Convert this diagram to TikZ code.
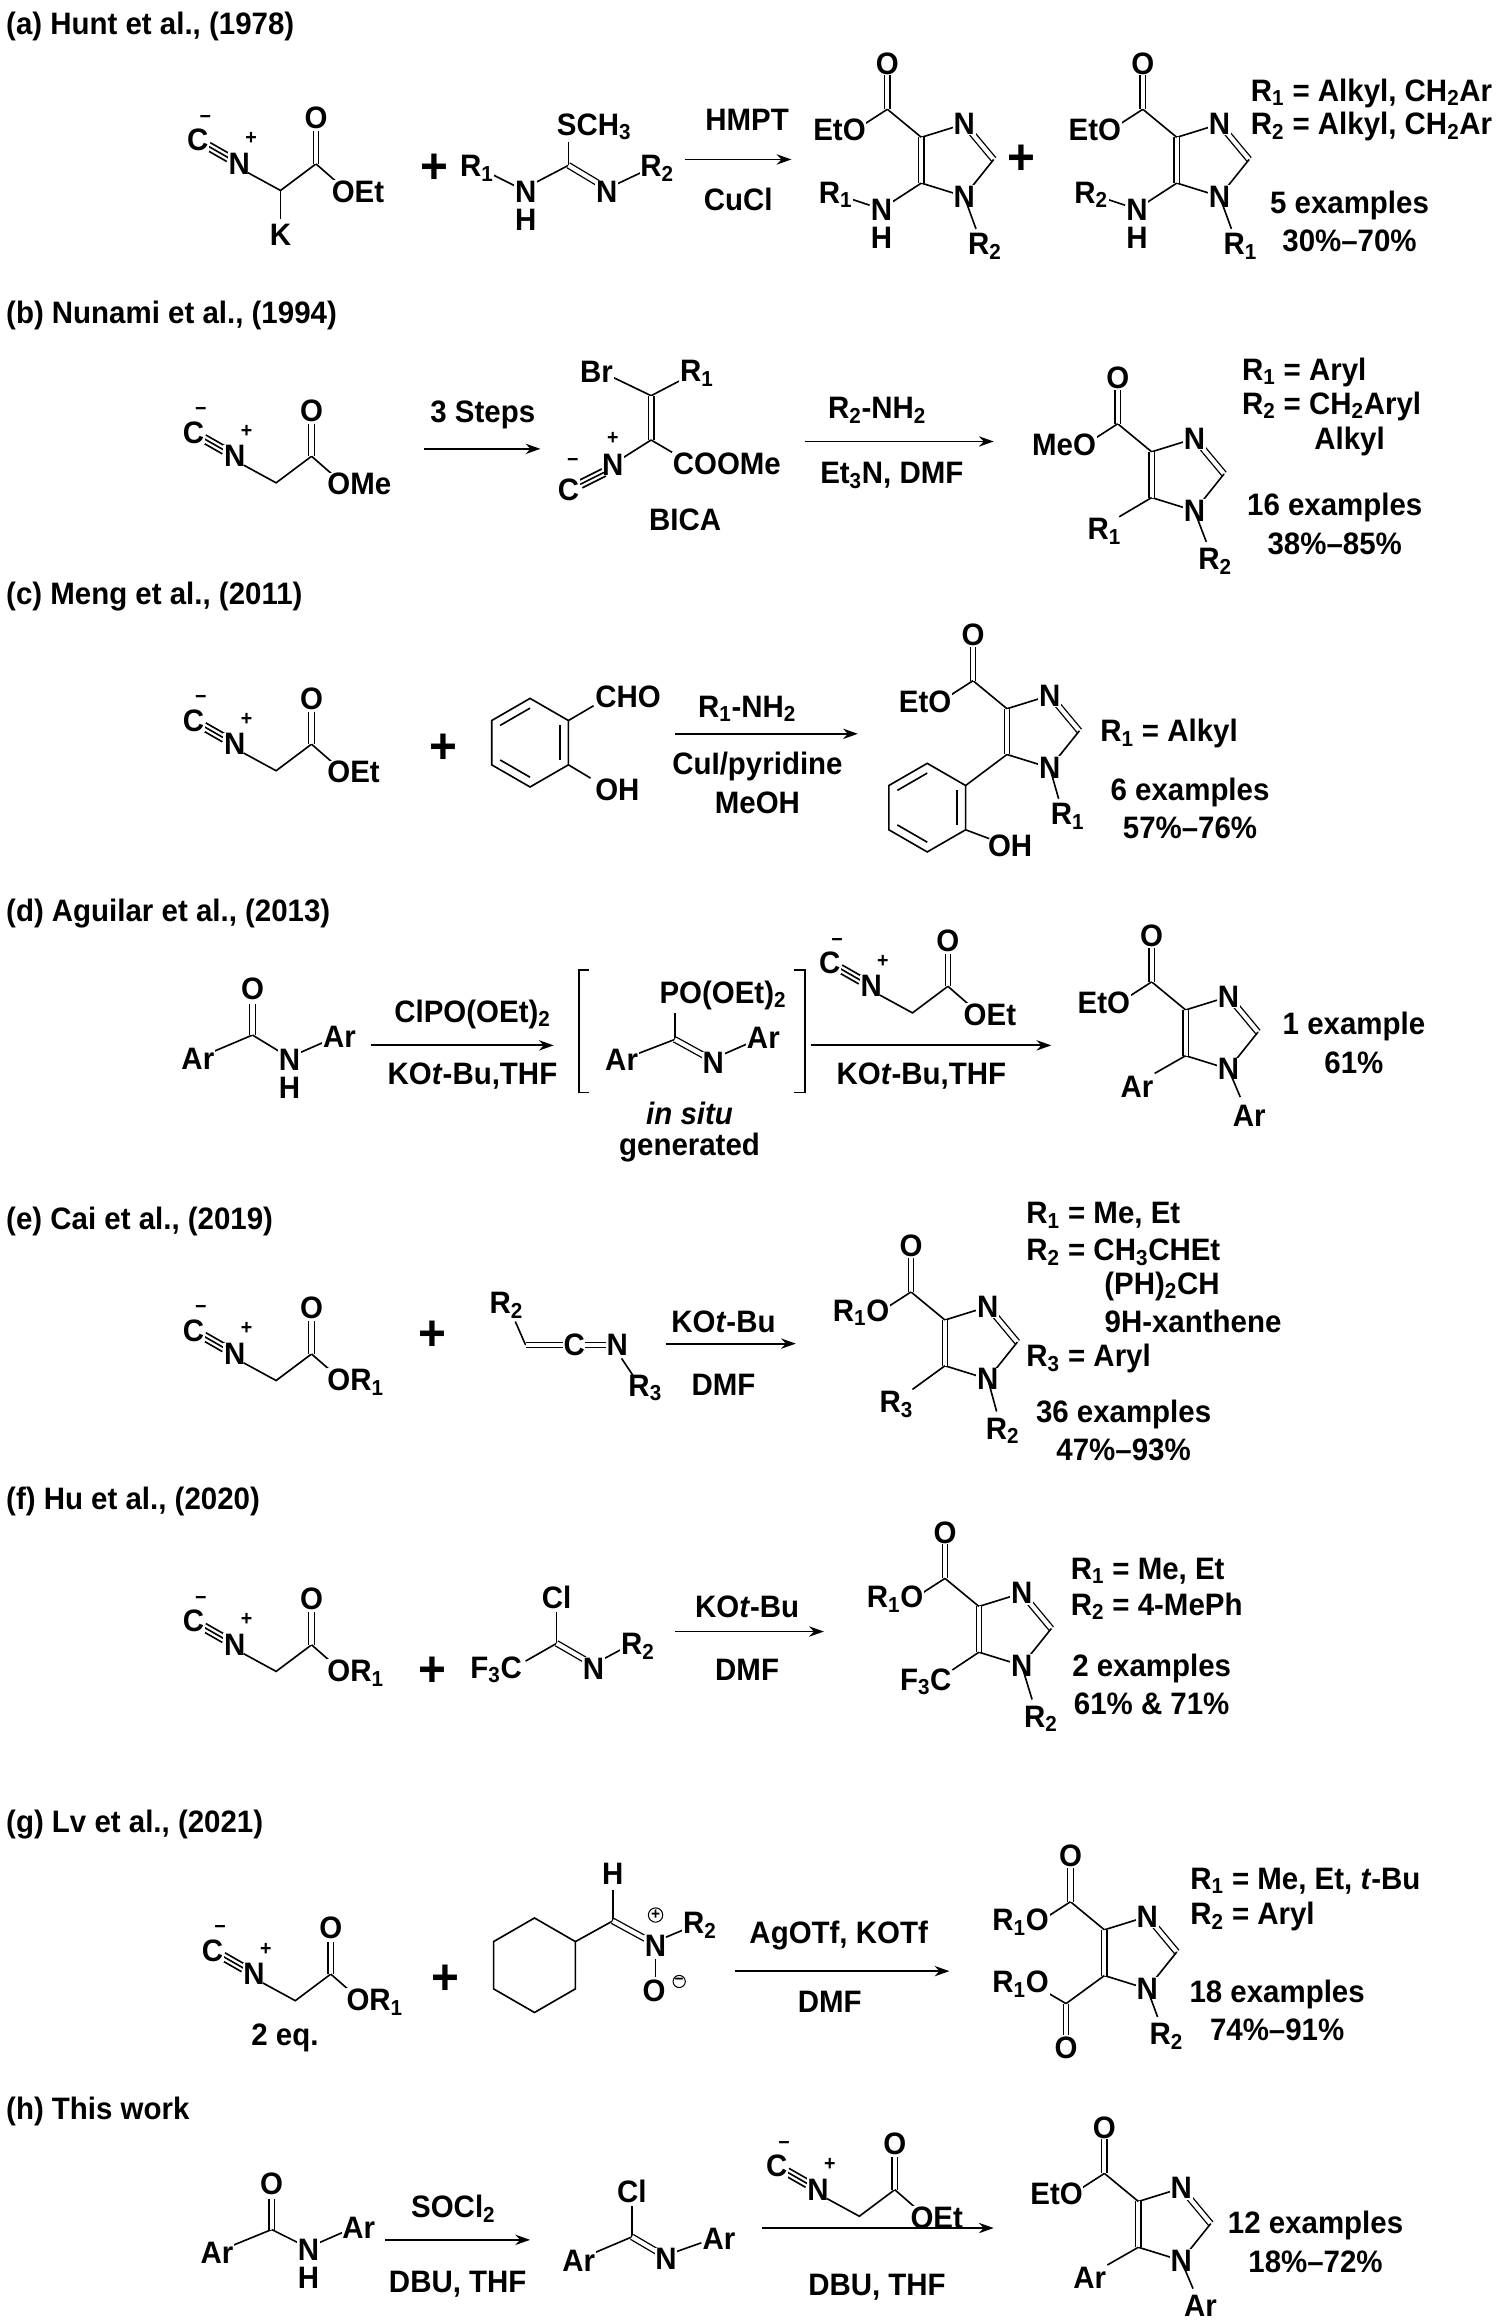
\documentclass[tikz,border=0pt]{standalone}
\usepackage{fontspec}
\setmainfont{Liberation Sans}[FakeStretch=0.95]
\usetikzlibrary{calc,arrows.meta}
\newcommand\sub[1]{\textsubscript{#1}}
\tikzset{
 every node/.style={font=\bfseries\fontsize{21}{24}\selectfont, inner sep=1pt},
 bond/.style={line width=1.1pt},
 dbl/.style={double, double distance=2.8pt, line width=0.9pt},
 atom/.style={fill=white, inner sep=0.5pt},
 chg/.style={font=\bfseries\fontsize{14}{15}\selectfont, inner sep=0pt},
 cchg/.style={circle, draw, line width=0.7pt, font=\bfseries\fontsize{11}{12}\selectfont, inner sep=0.3pt},
 arr/.style={-{Stealth[length=10pt,width=7pt]}, line width=1.2pt},
 hdr/.style={anchor=west},
 plus/.style={font=\bfseries\fontsize{34}{36}\selectfont}
}
% isocyanoacetate fragment, origin at isocyanide C
\newcommand\isoester[3]{%
\begin{scope}[shift={(#1,#2)}]
 \draw[bond] (7,4)--(21,12);
 \draw[bond] (5.6,6.4)--(19.6,14.4);
 \draw[bond] (8.4,1.6)--(22.4,9.6);
 \node[atom] (ic) at (0,0) {C}; \node[chg] (im) at (5,-14) {\textminus};
 \node[atom] (in) at (28,16) {N}; \node[chg] (ip) at (36,-1) {+};
 \draw[bond] (34,22)--(56,34)--(80,16);
 \draw[dbl] (80,16)--(80,-6);
 \node[atom] (io) at (80,-15) {O};
 \draw[bond] (80,16)--(96,30);
 \node[atom,anchor=west] (ir) at (90,35) {#3};
\end{scope}}
% imidazole ring with ester on C4, origin C4
\newcommand\imid[3]{%
\begin{scope}[shift={(#1,#2)}]
 \coordinate (c4) at (0,0); \coordinate (n3) at (29,-9); \coordinate (c2) at (49,15);
 \coordinate (n1) at (29,40); \coordinate (c5) at (0,31);
 \coordinate (cc) at (-23,-19); \coordinate (oo) at (-23,-50);
 \draw[bond] (c4)--(n3); \draw[dbl] (n3)--(c2); \draw[bond] (c2)--(n1)--(c5);
 \draw[dbl] (c5)--(c4);
 \draw[bond] (c4)--(cc); \draw[dbl] (cc)--(-23,-42); \draw[bond] (cc)--(-40,-8);
 \node[atom] (nn3) at (n3) {N}; \node[atom] (nn1) at (n1) {N};
 \node[atom] (no) at (oo) {O}; \node[atom,anchor=east] (ne) at (-37,-5) {#3};
\end{scope}}
% hexagon with Kekule inner lines
\newcommand\hexring[4]{%
 \foreach \k in {0,...,5}{\coordinate (hx\k) at ($(#1,#2)+({30+60*\k}:#3)$);}
 \draw[bond] (hx0)--(hx1)--(hx2)--(hx3)--(hx4)--(hx5)--cycle;
 \foreach \a/\b in {#4}{\draw[bond] ($(#1,#2)!0.78!(hx\a)$)--($(#1,#2)!0.78!(hx\b)$);}
}
\begin{document}
\begin{tikzpicture}[x=1pt,y=-1pt]
\useasboundingbox (0,0) rectangle (1024,1574);
\fill[white] (0,0) rectangle (1024,1574);

% ================= (a)
\node[hdr] (ha) at (3,18) {(a) Hunt et al., (1978)};
\isoester{134}{95}{OEt}
\draw[bond] (190,129)--(190,148); \node (ak) at (190,159) {K};
\node[plus] (apl) at (294,114) {+};
\draw[bond] (333,118)--(349,126); \draw[bond] (362,124)--(385,112);
\draw[bond] (385,112)--(385,96); \draw[dbl] (385,112)--(405,124); \draw[bond] (417,125)--(434,117);
\node[atom] (ar1) at (323,114) {R\sub1}; \node[atom] (anh) at (356,130) {N}; \node (ah) at (356,149) {H};
\node[anchor=west] (asc) at (376,86) {SCH\sub3}; \node[atom] (an2) at (411,130) {N}; \node[atom] (ar2) at (445,114) {R\sub2};
\coordinate (aA1) at (464,108); \coordinate (aA2) at (536,108);
\draw[arr] (aA1)--(aA2);
\node (ahm) at (506,81) {HMPT}; \node (acu) at (500,135) {CuCl};
\imid{624}{93}{EtO}
\draw[bond] (c5)--(604,137); \node[atom] (p1n) at (597,142) {N}; \node (p1h) at (597,161) {H};
\draw[bond] (589,139)--(577,135); \node[atom] (p1r) at (566,132) {R\sub1};
\draw[bond] (n1)--(661,155); \node (p1r2) at (667,167) {R\sub2};
\node[plus] (apl2) at (692,108) {+};
\imid{797}{93}{EtO}
\draw[bond] (c5)--(777,137); \node[atom] (p2n) at (770,142) {N}; \node (p2h) at (770,161) {H};
\draw[bond] (762,139)--(750,135); \node[atom] (p2r) at (739,132) {R\sub2};
\draw[bond] (n1)--(834,155); \node (p2r1) at (840,167) {R\sub1};
\node[anchor=west] (at1) at (846,63) {R\sub1 = Alkyl, CH\sub2Ar};
\node[anchor=west] (at2) at (846,86) {R\sub2 = Alkyl, CH\sub2Ar};
\node (at3) at (914,139) {5 examples};
\node (at4) at (914,163) {30\%--70\%};

% ================= (b)
\node[hdr] (hb) at (3,214) {(b) Nunami et al., (1994)};
\isoester{131}{293}{OMe}
\coordinate (bA1) at (287,304); \coordinate (bA2) at (366,304);
\draw[arr] (bA1)--(bA2); \node (bst) at (327,281) {3 Steps};
\draw[bond] (414,255)--(441,268)--(464,256);
\draw[dbl] (441,268)--(441,298);
\draw[bond] (441,298)--(422,310); \draw[bond] (441,298)--(458,308);
\node[atom] (bbr) at (404,252) {Br}; \node[atom] (br1) at (472,253) {R\sub1};
\node[atom] (bn) at (415,315) {N}; \node[chg] at (415,297) {+};
\draw[bond] (409,320)--(393,328); \draw[bond] (407.6,317.6)--(391.6,325.6); \draw[bond] (410.4,322.4)--(394.4,330.4);
\node[atom] (bc) at (385,332) {C}; \node[chg] at (388,313) {\textminus};
\node[atom,anchor=west] (bco) at (455,314) {COOMe};
\node (bbica) at (464,352) {BICA};
\coordinate (bB1) at (545,299); \coordinate (bB2) at (673,299);
\draw[arr] (bB1)--(bB2);
\node (brn) at (594,278) {R\sub2-NH\sub2}; \node (bet) at (604,322) {Et\sub3N, DMF};
\imid{780}{306}{MeO}
\draw[bond] (c5)--(758,350); \node (bpr1) at (748,360) {R\sub1};
\draw[bond] (n1)--(817,367); \node (bpr2) at (823,380) {R\sub2};
\node[anchor=west] (bt1) at (840,252) {R\sub1 = Aryl};
\node[anchor=west] (bt2) at (840,275) {R\sub2 = CH\sub2Aryl};
\node (bt3) at (914,299) {Alkyl};
\node (bt4) at (904,344) {16 examples};
\node (bt5) at (904,368) {38\%--85\%};

% ================= (c)
\node[hdr] (hc) at (3,404) {(c) Meng et al., (2011)};
\isoester{131}{488}{OEt}
\node[plus] (cpl) at (300,507) {+};
\hexring{359}{503}{30}{5/0,1/2,3/4}
\draw[bond] (hx5)--(402,478); \node[anchor=west] (ccho) at (402,472) {CHO};
\draw[bond] (hx0)--(400,527); \node[anchor=west] (coh) at (402,535) {OH};
\coordinate (cA1) at (457,497); \coordinate (cA2) at (581,497);
\draw[arr] (cA1)--(cA2);
\node (crn) at (506,480) {R\sub1-NH\sub2}; \node (ccu) at (513,519) {CuI/pyridine}; \node (cme) at (513,544) {MeOH};
\imid{682}{480}{EtO}
\draw[bond] (n1)--(717,541); \node (cr1) at (723,553) {R\sub1};
\hexring{628}{547}{30}{5/0,1/2,3/4}
\draw[bond] (c5)--(hx5);
\draw[bond] (hx0)--(670,568); \node[anchor=west] (coh2) at (668,573) {OH};
\node[anchor=west] (ct1) at (744,497) {R\sub1 = Alkyl};
\node (ct2) at (806,537) {6 examples};
\node (ct3) at (806,561) {57\%--76\%};

% ================= (d)
\node[hdr] (hd) at (3,619) {(d) Aguilar et al., (2013)};
\draw[bond] (145,712)--(171,701); \draw[dbl] (171,701)--(171,680); \draw[bond] (171,701)--(189,712);
\draw[bond] (203,713)--(219,706);
\node[atom] (dar) at (134,717) {Ar}; \node[atom] (do) at (171,670) {O};
\node[atom] (dn) at (196,718) {N}; \node (dh) at (196,737) {H}; \node[atom] (dar2) at (230,702) {Ar};
\coordinate (dA1) at (251,708); \coordinate (dA2) at (375,708);
\draw[arr] (dA1)--(dA2);
\node (dcl) at (320,687) {ClPO(OEt)\sub2}; \node (dko) at (320,729) {KO\textit{t}-Bu,THF};
\draw[bond] (399,657)--(392,657)--(392,740)--(399,740);
\draw[bond] (538,657)--(545,657)--(545,740)--(538,740);
\draw[bond] (457,704)--(457,686); \node[atom,anchor=west] (dpo) at (446,674) {PO(OEt)\sub2};
\draw[bond] (457,704)--(431,714); \node[atom] (dar3) at (421,718) {Ar};
\draw[dbl] (457,704)--(477,715); \draw[bond] (490,714)--(506,707);
\node[atom] (dn2) at (483,720) {N}; \node[atom] (dar4) at (517,703) {Ar};
\node (dis) at (467,754) {\textit{in situ}}; \node (dge) at (467,777) {generated};
\isoester{562}{652}{OEt}
\coordinate (dB1) at (549,708); \coordinate (dB2) at (712,708);
\draw[arr] (dB1)--(dB2);
\node (dko2) at (624,729) {KO\textit{t}-Bu,THF};
\imid{803}{684}{EtO}
\draw[bond] (c5)--(782,727); \node (dpar) at (770,736) {Ar};
\draw[bond] (n1)--(840,743); \node (dpar2) at (846,756) {Ar};
\node (dt1) at (917,695) {1 example};
\node (dt2) at (917,720) {61\%};

% ================= (e)
\node[hdr] (he) at (3,827) {(e) Cai et al., (2019)};
\isoester{131}{901}{OR\sub1}
\node[plus] (epl) at (293,905) {+};
\node[atom] (er2) at (343,884) {R\sub2};
\draw[bond] (349,895)--(356,911); \draw[dbl] (356,911)--(382,911);
\node[atom] (ec) at (389,911) {C}; \draw[dbl] (396,911)--(411,911);
\node[atom] (en) at (418,911) {N};
\draw[bond] (421,920)--(429,932); \node (er3) at (437,940) {R\sub3};
\coordinate (eA1) at (451,910); \coordinate (eA2) at (539,910);
\draw[arr] (eA1)--(eA2);
\node (eko) at (490,895) {KO\textit{t}-Bu}; \node (edm) at (490,938) {DMF};
\imid{640}{894}{R\sub1O}
\draw[bond] (c5)--(618,941); \node (epr3) at (607,951) {R\sub3};
\draw[bond] (n1)--(675,956); \node (epr2) at (679,969) {R\sub2};
\node[anchor=west] (et1) at (694,823) {R\sub1 = Me, Et};
\node[anchor=west] (et2) at (694,848) {R\sub2 = CH\sub3CHEt};
\node (et3) at (787,871) {(PH)\sub2CH};
\node (et4) at (808,895) {9H-xanthene};
\node[anchor=west] (et5) at (694,920) {R\sub3 = Aryl};
\node (et6) at (761,958) {36 examples};
\node (et7) at (761,982) {47\%--93\%};

% ================= (f)
\node[hdr] (hf) at (3,1017) {(f) Hu et al., (2020)};
\isoester{131}{1098}{OR\sub1}
\node[plus] (fpl) at (293,1132) {+};
\draw[bond] (377,1113)--(377,1092); \node[atom] (fcl) at (377,1082) {Cl};
\draw[bond] (377,1113)--(356,1125); \node[atom] (ff3) at (336,1131) {F\sub3C};
\draw[dbl] (377,1113)--(396,1124); \draw[bond] (408,1124)--(421,1117);
\node[atom] (fn) at (402,1130) {N}; \node[atom] (fr2) at (432,1115) {R\sub2};
\coordinate (fA1) at (457,1105); \coordinate (fA2) at (558,1105);
\draw[arr] (fA1)--(fA2);
\node (fko) at (506,1088) {KO\textit{t}-Bu}; \node (fdm) at (506,1131) {DMF};
\imid{663}{1088}{R\sub1O}
\draw[bond] (c5)--(645,1131); \node (fpf) at (627,1139) {F\sub3C};
\draw[bond] (n1)--(699,1151); \node (fpr2) at (705,1164) {R\sub2};
\node[anchor=west] (ft1) at (724,1064) {R\sub1 = Me, Et};
\node[anchor=west] (ft2) at (724,1088) {R\sub2 = 4-MePh};
\node (ft3) at (780,1130) {2 examples};
\node (ft4) at (780,1154) {61\% \& 71\%};

% ================= (g)
\node[hdr] (hg) at (3,1236) {(g) Lv et al., (2021)};
\isoester{144}{1321}{OR\sub1}
\node (g2e) at (193,1380) {2 eq.};
\node[plus] (gpl) at (302,1341) {+};
\foreach \k in {0,...,5}{\coordinate (cy\k) at ($(362,1331)+({30+60*\k}:32)$);}
\draw[bond] (cy0)--(cy1)--(cy2)--(cy3)--(cy4)--(cy5)--cycle;
\draw[bond] (cy5)--(415,1301);
\draw[bond] (415,1301)--(415,1280); \node (gh) at (415,1269) {H};
\draw[dbl] (415,1301)--(437,1313);
\node[atom] (gn) at (444,1318) {N}; \node[cchg] (gnp) at (444,1297) {+};
\draw[bond] (451,1312)--(463,1307); \node[atom] (gr2) at (474,1304) {R\sub2};
\draw[bond] (444,1327)--(444,1339); \node[atom] (go) at (443,1348) {O}; \node[cchg] (gom) at (460,1342) {\textminus};
\coordinate (gA1) at (498,1335); \coordinate (gA2) at (643,1335);
\draw[arr] (gA1)--(gA2);
\node (gag) at (568,1311) {AgOTf, KOTf}; \node (gdm) at (562,1356) {DMF};
\imid{748}{1307}{R\sub1O}
\draw[bond] (c5)--(722,1357); \draw[dbl] (722,1357)--(722,1378); \node[atom] (go2) at (722,1387) {O};
\draw[bond] (722,1357)--(705,1347); \node[atom,anchor=east] (gre2) at (711,1344) {R\sub1O};
\draw[bond] (n1)--(784,1366); \node (gpr2) at (790,1379) {R\sub2};
\node[anchor=west] (gt1) at (805,1274) {R\sub1 = Me, Et, \textit{t}-Bu};
\node[anchor=west] (gt2) at (805,1298) {R\sub2 = Aryl};
\node (gt3) at (865,1351) {18 examples};
\node (gt4) at (865,1375) {74\%--91\%};

% ================= (h)
\node[hdr] (hh) at (3,1430) {(h) This work};
\draw[bond] (157,1521)--(184,1510); \draw[dbl] (184,1510)--(184,1489); \draw[bond] (184,1510)--(202,1519);
\draw[bond] (216,1519)--(232,1512);
\node[atom] (har) at (147,1526) {Ar}; \node[atom] (ho) at (184,1479) {O};
\node[atom] (hn) at (209,1524) {N}; \node (hhh) at (209,1543) {H}; \node[atom] (har2) at (243,1509) {Ar};
\coordinate (hA1) at (261,1517); \coordinate (hA2) at (359,1517);
\draw[arr] (hA1)--(hA2);
\node (hso) at (307,1496) {SOCl\sub2}; \node (hdb) at (310,1547) {DBU, THF};
\draw[bond] (428,1515)--(428,1494); \node[atom] (hcl) at (428,1484) {Cl};
\draw[bond] (428,1515)--(402,1526); \node[atom] (har3) at (392,1531) {Ar};
\draw[dbl] (428,1515)--(445,1525); \draw[bond] (458,1525)--(475,1519);
\node[atom] (hn2) at (451,1530) {N}; \node[atom] (har4) at (487,1516) {Ar};
\isoester{526}{1467}{OEt}
\coordinate (hB1) at (516,1509); \coordinate (hB2) at (673,1509);
\draw[arr] (hB1)--(hB2);
\node (hdb2) at (594,1549) {DBU, THF};
\imid{771}{1491}{EtO}
\draw[bond] (c5)--(750,1534); \node (hpar) at (738,1543) {Ar};
\draw[bond] (n1)--(808,1550); \node (hpar2) at (813,1562) {Ar};
\node (ht1) at (891,1507) {12 examples};
\node (ht2) at (891,1532) {18\%--72\%};
\end{tikzpicture}
\end{document}
